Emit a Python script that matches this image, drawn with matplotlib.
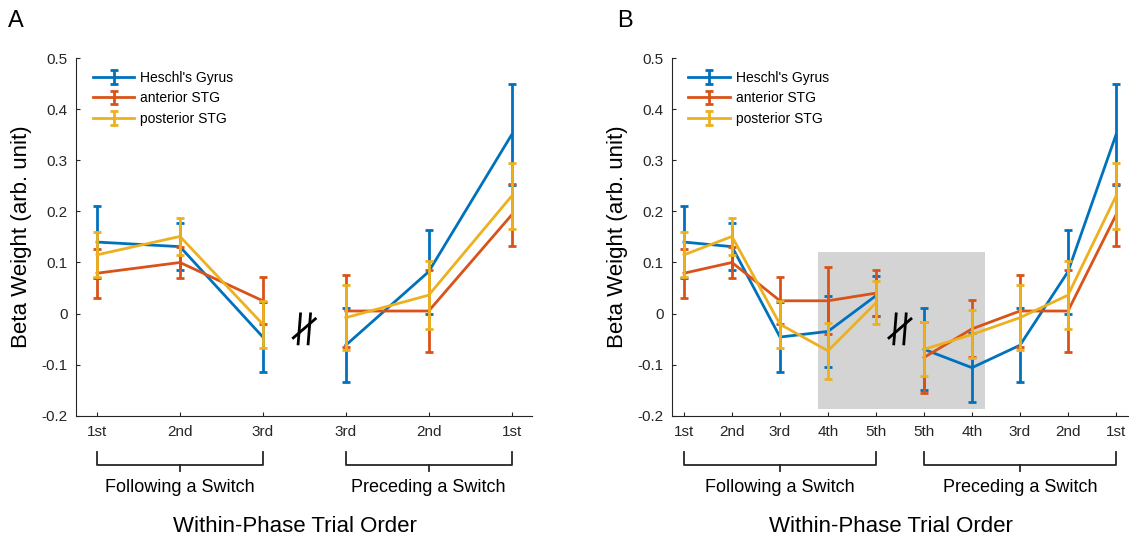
import matplotlib
matplotlib.use("Agg")
import matplotlib.pyplot as plt
import matplotlib.transforms as mtransforms
from matplotlib.patches import Rectangle
import numpy as np

plt.rcParams["font.family"] = ["Liberation Sans", "DejaVu Sans"]

# trial order within a phase (panel B shows 5 trials per phase)
labels_b = ["1st", "2nd", "3rd", "4th", "5th", "5th", "4th", "3rd", "2nd", "1st"]
n_follow_b = 5
# panel A keeps only the first three trials of each phase
keep_a = [0, 1, 2, 7, 8, 9]
n_follow_a = 3

regions = ["Heschl's Gyrus", "anterior STG", "posterior STG"]
colors = ["#0072BD", "#D95319", "#EDB120"]

# beta weights, order as labels_b
heschl_mean = [0.140, 0.131, -0.046, -0.035, 0.035, -0.070, -0.106, -0.062, 0.082, 0.350]
heschl_err = [0.071, 0.046, 0.068, 0.070, 0.039, 0.080, 0.068, 0.073, 0.082, 0.099]
ant_mean = [0.079, 0.100, 0.025, 0.025, 0.040, -0.086, -0.030, 0.005, 0.005, 0.193]
ant_err = [0.048, 0.031, 0.046, 0.066, 0.045, 0.069, 0.056, 0.070, 0.080, 0.060]
post_mean = [0.115, 0.151, -0.021, -0.073, 0.021, -0.070, -0.041, -0.008, 0.036, 0.230]
post_err = [0.044, 0.037, 0.046, 0.055, 0.042, 0.053, 0.047, 0.064, 0.067, 0.064]

yticks = [-0.2, -0.1, 0, 0.1, 0.2, 0.3, 0.4, 0.5]
ytick_labels = ["-0.2", "-0.1", "0", "0.1", "0.2", "0.3", "0.4", "0.5"]

# grey box marking the extra trials in panel B
shade_x = (3.79, 7.27)
shade_y = (-0.187, 0.12)

AX_COL = "#262626"


def draw_panel(fig, ax, labels, n_follow, means, errs, shade=None):
    n = len(labels)
    x = np.arange(1, n + 1)
    groups = [slice(0, n_follow), slice(n_follow, n)]

    if shade is not None:
        (x0, x1), (y0, y1) = shade
        ax.add_patch(Rectangle((x0, y0), x1 - x0, y1 - y0,
                               facecolor="#d4d4d4", edgecolor="none", zorder=1))

    for i, (name, col, m, e) in enumerate(zip(regions, colors, means, errs)):
        m = np.asarray(m)
        e = np.asarray(e)
        for g, sl in enumerate(groups):
            ax.errorbar(x[sl], m[sl], yerr=e[sl], color=col, lw=2,
                        elinewidth=2, capsize=3.2, capthick=2,
                        label=name if g == 0 else None, zorder=3 + i)

    ax.set_xlim(0.75, n + 0.25)
    ax.set_ylim(-0.2, 0.5)
    ax.set_xticks(x)
    ax.set_xticklabels(labels)
    ax.set_yticks(yticks)
    ax.set_yticklabels(ytick_labels)
    ax.tick_params(direction="in", length=3, width=0.8, color=AX_COL,
                   labelcolor=AX_COL, labelsize=11)
    ax.tick_params(axis="x", pad=7)
    ax.tick_params(axis="y", pad=6)
    for s in ["top", "right"]:
        ax.spines[s].set_visible(False)
    for s in ["left", "bottom"]:
        ax.spines[s].set_color(AX_COL)
        ax.spines[s].set_linewidth(0.8)

    ax.legend(loc="upper left", bbox_to_anchor=(0.036, 0.964), frameon=False,
              fontsize=10, handlelength=3.0, handletextpad=0.4,
              labelspacing=0.45, borderpad=0, borderaxespad=0)

    # brackets for the two phases
    trans = mtransforms.blended_transform_factory(ax.transData, ax.transAxes)
    for x0, x1, txt in [(1, n_follow, "Following a Switch"),
                        (n_follow + 1, n, "Preceding a Switch")]:
        ax.plot([x0, x0, x1, x1], [-0.101, -0.138, -0.138, -0.101],
                transform=trans, clip_on=False, color=AX_COL, lw=1.3)
        xm = (x0 + x1) / 2
        ax.plot([xm, xm], [-0.138, -0.154], transform=trans, clip_on=False,
                color=AX_COL, lw=1.3)
        ax.text(xm, -0.202, txt, transform=trans, ha="center", va="center",
                fontsize=13)

    ax.text(0.48, -0.309, "Within-Phase Trial Order", transform=ax.transAxes,
            ha="center", va="center", fontsize=16)
    ax.text(-0.12, 0.5, "Beta Weight (arb. unit)", rotation=90,
            transform=ax.transAxes, ha="center", va="center", fontsize=16)

    # axis break sign between the phases (sizes in inches)
    tr = fig.dpi_scale_trans + mtransforms.ScaledTranslation(
        n_follow + 0.5, -0.03, ax.transData)
    for dx in (-0.05, 0.05):
        ax.plot([dx - 0.012, dx + 0.012], [-0.15, 0.15], transform=tr,
                color="k", lw=2, clip_on=False, zorder=6)
    ax.plot([-0.11, 0.11], [-0.09, 0.10], transform=tr, color="k", lw=2,
            clip_on=False, zorder=6)
    ax.set_xlim(0.75, n + 0.25)
    ax.set_ylim(-0.2, 0.5)


fig = plt.figure(figsize=(11.29, 5.40), dpi=100)
axA = fig.add_axes([0.0676, 0.2302, 0.4039, 0.6620])
axB = fig.add_axes([0.5952, 0.2302, 0.4039, 0.6620])

means_b = [heschl_mean, ant_mean, post_mean]
errs_b = [heschl_err, ant_err, post_err]
means_a = [[m[k] for k in keep_a] for m in means_b]
errs_a = [[e[k] for k in keep_a] for e in errs_b]
labels_a = [labels_b[k] for k in keep_a]

draw_panel(fig, axA, labels_a, n_follow_a, means_a, errs_a)
draw_panel(fig, axB, labels_b, n_follow_b, means_b, errs_b,
           shade=(shade_x, shade_y))

fig.text(8 / 1129, 1 - 21 / 540, "A", fontsize=17, ha="left", va="center")
fig.text(617 / 1129, 1 - 21 / 540, "B", fontsize=17, ha="left", va="center")

fig.savefig("out.png", dpi=100)
